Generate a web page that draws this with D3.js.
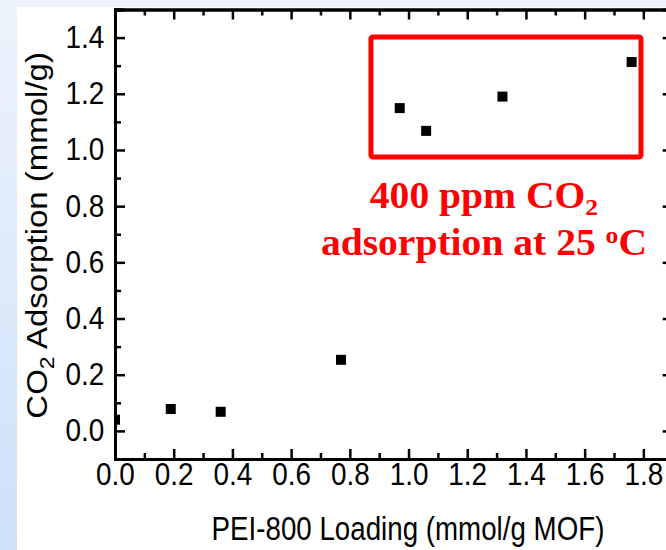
<!DOCTYPE html>
<html>
<head>
<meta charset="utf-8">
<script src="https://cdn.jsdelivr.net/npm/d3@7"></script>
<style>
  body { margin: 0; padding: 0; }
  svg { display: block; }
  .sans { font-family: "Liberation Sans", Arial, sans-serif; }
  .serif { font-family: "Liberation Serif", "Times New Roman", serif; font-weight: bold; }
</style>
</head>
<body>
<div id="chart"></div>
<script>
// data
const loading = [0, 0.19, 0.36, 0.77, 0.97, 1.06, 1.32, 1.76];
const adsorption = [0.04, 0.078, 0.068, 0.253, 1.149, 1.068, 1.19, 1.313];
const xMajor = [0, 0.2, 0.4, 0.6, 0.8, 1.0, 1.2, 1.4, 1.6, 1.8];
const xMinor = [0.1, 0.3, 0.5, 0.7, 0.9, 1.1, 1.3, 1.5, 1.7, 1.9];
const yMajor = [0, 0.2, 0.4, 0.6, 0.8, 1.0, 1.2, 1.4];
const yMinor = [-0.1, 0.1, 0.3, 0.5, 0.7, 0.9, 1.1, 1.3, 1.5];
// red annotation box, in data units
const boxX = [0.872, 1.792];
const boxY = [0.975, 1.402];

const width = 666, height = 550;
const margin = { left: 115, top: 9.5, right: -6.7, bottom: 91 };

const svg = d3.select("#chart").append("svg")
    .attr("width", width).attr("height", height);

const defs = svg.append("defs");
const grad = defs.append("linearGradient").attr("id", "bg").attr("x1", 0).attr("y1", 0).attr("x2", 0).attr("y2", 1);
grad.append("stop").attr("offset", "0%").attr("stop-color", "#edf3fc");
grad.append("stop").attr("offset", "100%").attr("stop-color", "#cde1f9");

svg.append("rect").attr("width", width).attr("height", height).attr("fill", "url(#bg)");
svg.append("rect").attr("x", 17).attr("y", 7).attr("width", width - 17).attr("height", height - 7).attr("fill", "#fff");

const x = d3.scaleLinear().domain([0, 1.9]).range([margin.left, width - margin.right]);
const y = d3.scaleLinear().domain([-0.1, 1.5]).range([height - margin.bottom, margin.top]);

defs.append("clipPath").attr("id", "plot")
    .append("rect")
    .attr("x", x(0)).attr("y", y(1.5))
    .attr("width", x(1.9) - x(0)).attr("height", y(-0.1) - y(1.5));

// points
svg.append("g").attr("clip-path", "url(#plot)")
    .selectAll("rect").data(loading).join("rect")
    .attr("x", (d, i) => x(d) - 5)
    .attr("y", (d, i) => y(adsorption[i]) - 5)
    .attr("width", 10).attr("height", 10)
    .attr("fill", "#000");

// axes, ticks inward
const tickFmt = d3.format(".1f");
const axBottom = svg.append("g").attr("transform", `translate(0,${y(-0.1)})`);
axBottom.call(d3.axisBottom(x).tickValues(xMajor).tickSize(-10).tickPadding(4).tickFormat(tickFmt));
axBottom.call(g => g.append("g").call(d3.axisBottom(x).tickValues(xMinor).tickSize(-6).tickFormat("")));

const axLeft = svg.append("g").attr("transform", `translate(${x(0)},0)`);
axLeft.call(d3.axisLeft(y).tickValues(yMajor).tickSize(-10).tickPadding(12).tickFormat(tickFmt));
axLeft.call(g => g.append("g").call(d3.axisLeft(y).tickValues(yMinor).tickSize(-6).tickFormat("")));

const axTop = svg.append("g").attr("transform", `translate(0,${y(1.5)})`);
axTop.call(d3.axisTop(x).tickValues(xMajor).tickSize(-10).tickFormat(""));
axTop.call(g => g.append("g").call(d3.axisTop(x).tickValues(xMinor).tickSize(-6).tickFormat("")));

const axRight = svg.append("g").attr("transform", `translate(${x(1.9)},0)`);
axRight.call(d3.axisRight(y).tickValues(yMajor).tickSize(-10).tickFormat(""));
axRight.call(g => g.append("g").call(d3.axisRight(y).tickValues(yMinor).tickSize(-6).tickFormat("")));

svg.selectAll(".domain").attr("stroke", "#000").attr("stroke-width", 3);
svg.selectAll(".tick line").attr("stroke", "#000").attr("stroke-width", 2.5);
svg.selectAll(".tick text")
    .attr("class", "sans")
    .attr("fill", "#000")
    .style("font-size", "31px")
    .attr("transform", "scale(0.9,1)");

// axis titles
svg.append("text")
    .attr("class", "sans")
    .attr("transform", `translate(408,540) scale(0.84,1)`)
    .attr("text-anchor", "middle")
    .style("font-size", "33px")
    .text("PEI-800 Loading (mmol/g MOF)");

const yt = svg.append("text")
    .attr("class", "sans")
    .attr("transform", `translate(47,${y(0.696)}) scale(0.9,1) rotate(-90)`)
    .attr("text-anchor", "middle")
    .style("font-size", "33px");
yt.append("tspan").text("CO");
yt.append("tspan").attr("dy", 8).style("font-size", "23px").text("2");
yt.append("tspan").attr("dy", -8).text(" Adsorption (mmol/g)");

// annotation
svg.append("rect")
    .attr("x", x(boxX[0])).attr("y", y(boxY[1]))
    .attr("width", x(boxX[1]) - x(boxX[0])).attr("height", y(boxY[0]) - y(boxY[1]))
    .attr("rx", 2)
    .attr("fill", "none").attr("stroke", "#ff0000").attr("stroke-width", 5);

const note = svg.append("g").attr("fill", "#ff0000");
const l1 = note.append("text")
    .attr("class", "serif")
    .attr("transform", `translate(${x(1.257)},${y(0.793)}) scale(1.07,1)`)
    .attr("text-anchor", "middle").style("font-size", "37px");
l1.append("tspan").text("400 ppm CO");
l1.append("tspan").attr("dy", 7).style("font-size", "24px").text("2");
const l2 = note.append("text")
    .attr("class", "serif")
    .attr("transform", `translate(${x(1.257)},${y(0.626)}) scale(1.07,1)`)
    .attr("text-anchor", "middle").style("font-size", "37px");
l2.append("tspan").text("adsorption at 25 ");
l2.append("tspan").attr("dy", -12).style("font-size", "24px").text("o");
l2.append("tspan").attr("dy", 12).text("C");
</script>
</body>
</html>
